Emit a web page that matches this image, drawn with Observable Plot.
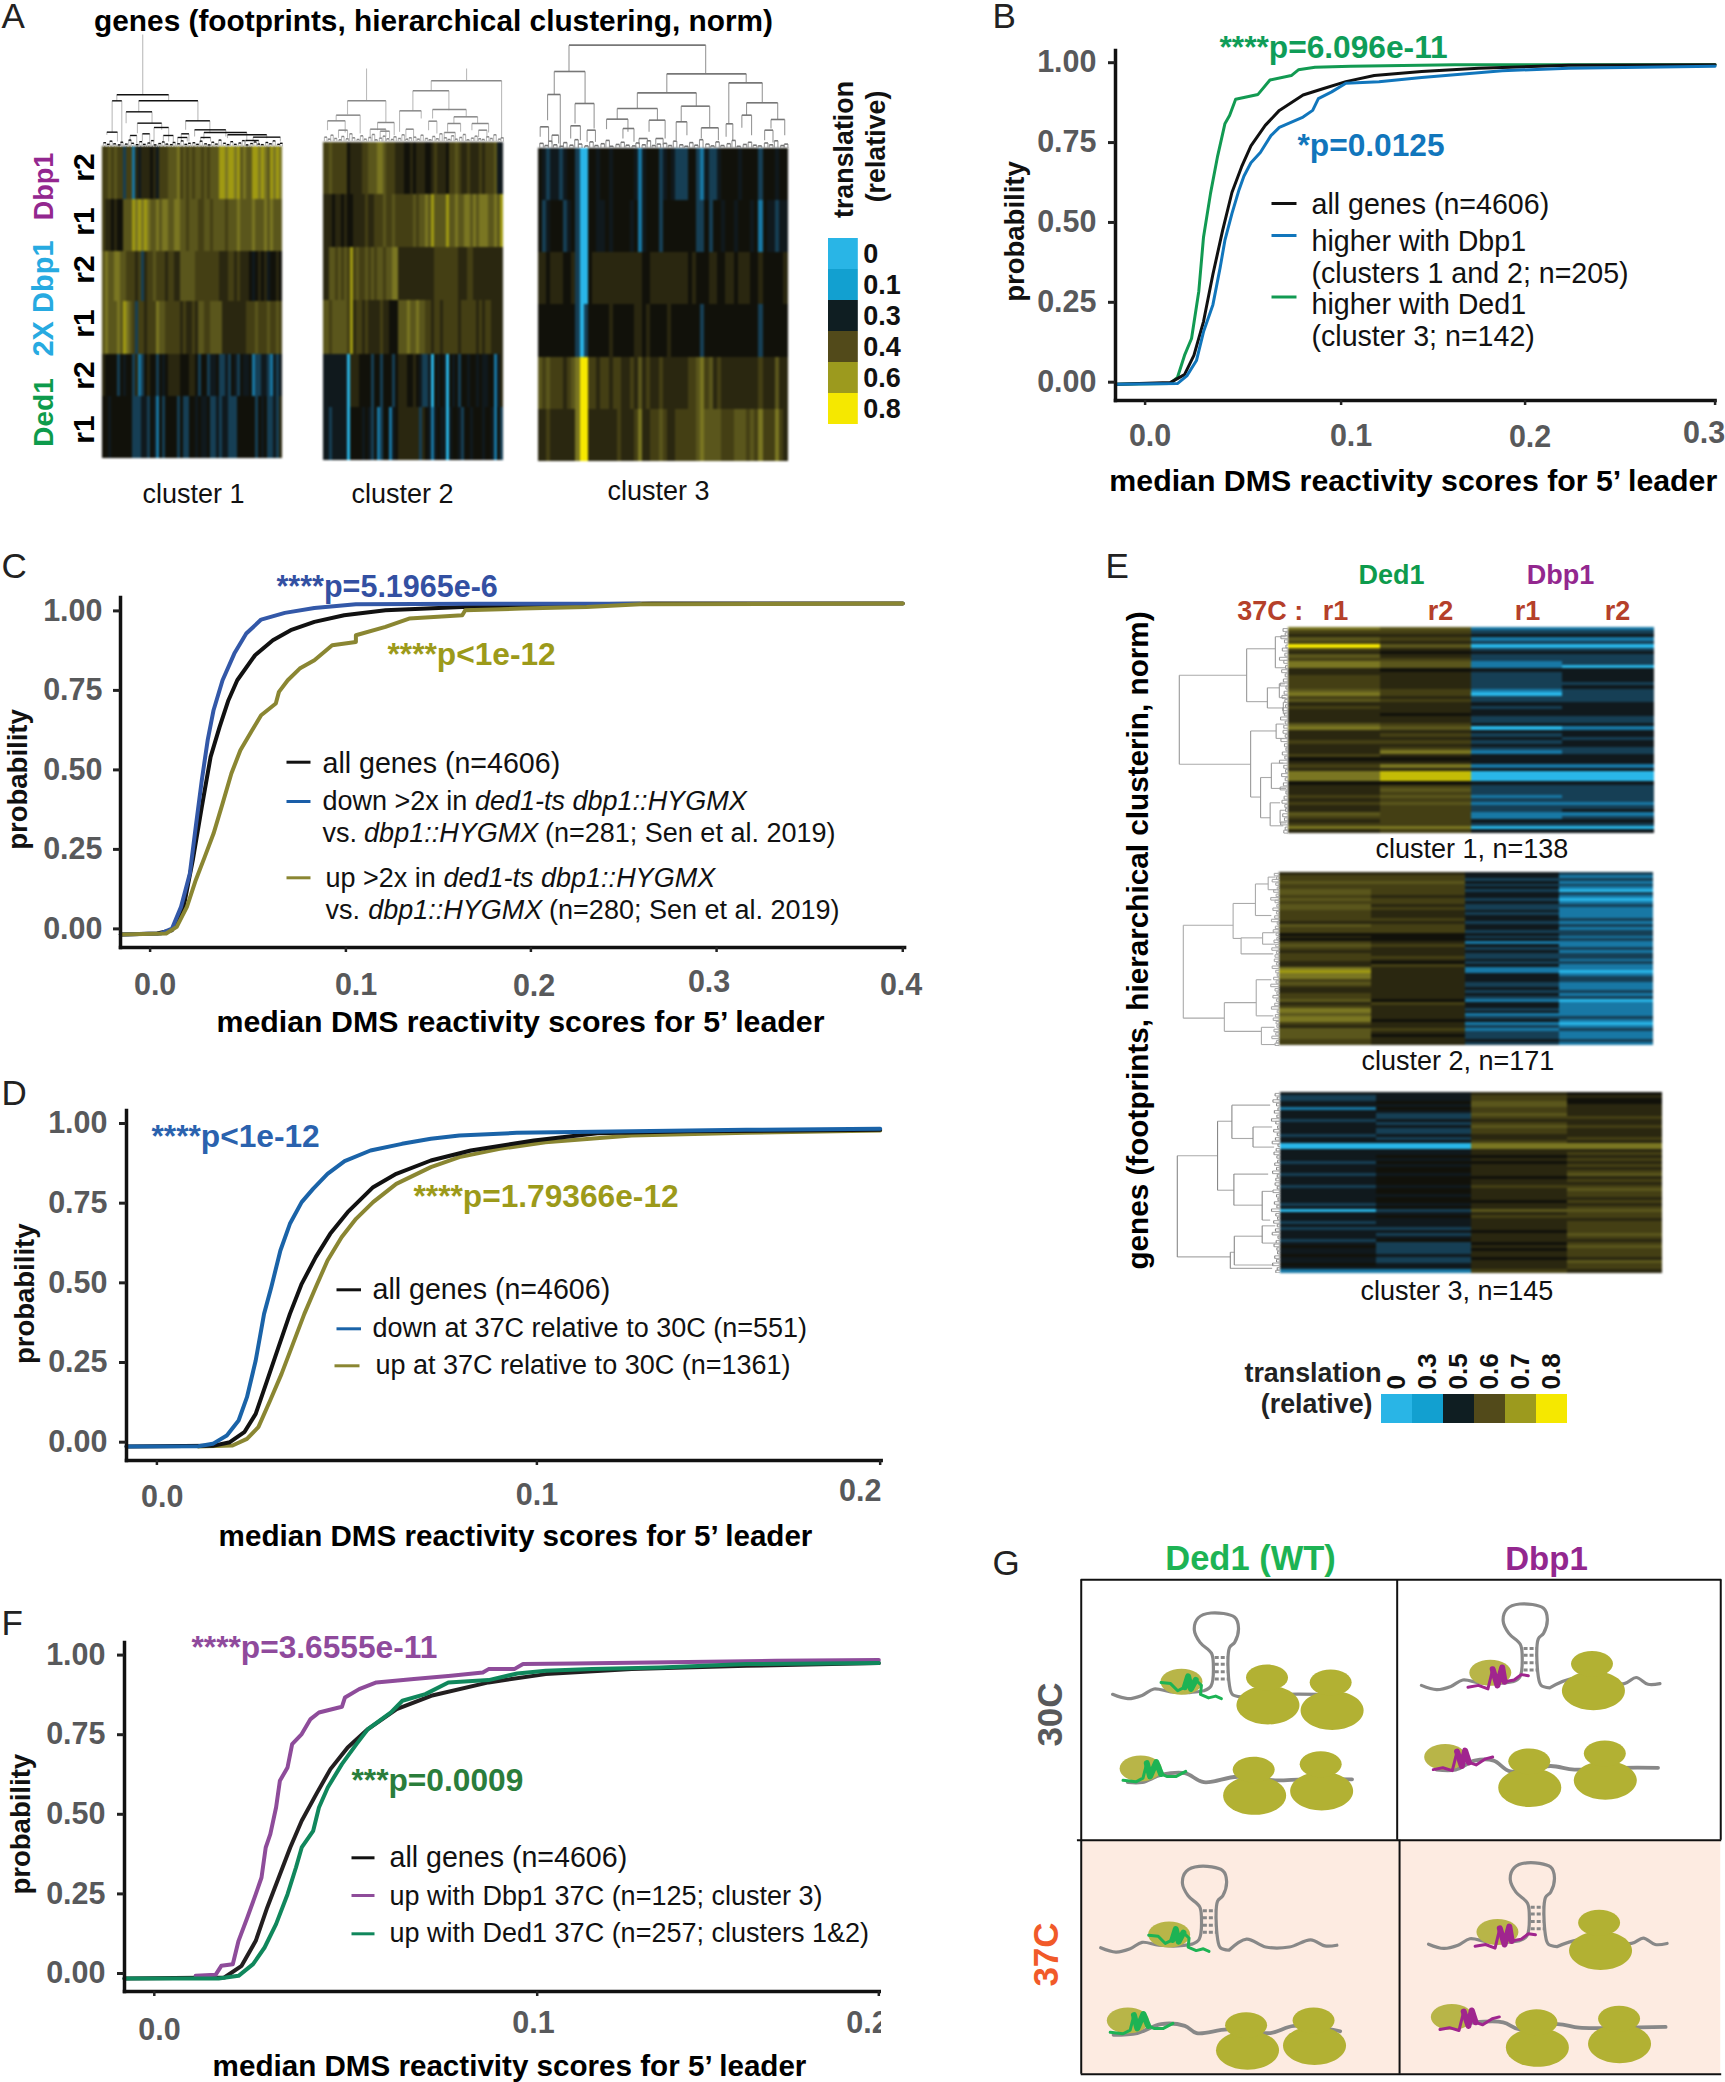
<!DOCTYPE html>
<html><head><meta charset="utf-8">
<style>
html,body{margin:0;padding:0;background:#fff;width:1725px;height:2082px;overflow:hidden}
#page{position:relative;width:1725px;height:2082px;overflow:hidden;font-family:"Liberation Sans",Arial,sans-serif}
#page svg{position:absolute;background:transparent;font-family:"Liberation Sans",Arial,sans-serif}
</style>
<script src="https://cdn.jsdelivr.net/npm/d3@7"></script>
<script src="https://cdn.jsdelivr.net/npm/@observablehq/plot@0.6"></script>
</head><body><div id="page"></div>
<script>
// ---------- Panel B values ----------
const bAllX=[-.015,.0128,.0201,.0249,.0298,.0346,.0395,.0443,.0492,.054,.0613,.0685,.0806,.0903,.1026,.118,.1438,.1747,.223,.3];
const bAllY=[0,.005,.03,.09,.196,.344,.48,.6,.68,.746,.81,.857,.905,.924,.947,.966,.979,.989,.998,1];
const bDedX=[-.015,.0128,.0165,.0201,.0237,.0274,.0298,.0334,.037,.0407,.0431,.0462,.0576,.0637,.0746,.0782,.0867,.1052,.1619,.3];
const bDedY=[0,.002,.021,.09,.143,.291,.46,.598,.714,.815,.841,.892,.907,.952,.966,.984,.992,.995,1,1];
const bDbpX=[-.015,.0165,.0213,.0262,.0298,.0346,.0383,.0407,.0443,.0479,.0504,.054,.0588,.0642,.0685,.0806,.0855,.0884,.0952,.1026,.1206,.1438,.1876,.223,.3];
const bDbpY=[0,.002,.026,.074,.164,.249,.365,.45,.534,.608,.651,.693,.725,.778,.804,.836,.857,.894,.915,.942,.947,.96,.981,.989,.995];
// ---------- Panel C values ----------
const cAllX=[-.015,.0036,.0112,.0173,.0218,.0264,.0309,.0355,.04,.0445,.0536,.0627,.0718,.0839,.0991,.1214,.1629,.2173,.2652,.4];
const cAllY=[-.0115,-.0084,.002,.0807,.2222,.39,.5472,.6415,.7254,.7883,.8669,.914,.9455,.9717,.9927,1.0084,1.0189,1.0262,1.0294,1.0294];
const cDownX=[-.015,.0052,.0112,.0158,.0203,.0233,.0264,.0294,.0324,.037,.043,.0491,.0567,.0688,.0839,.1054,.1693,.2588];
const cDownY=[-.0115,-.0084,.0073,.0755,.1803,.327,.4738,.5996,.6939,.7883,.8721,.935,.979,1,1.0157,1.0273,1.029,1.029];
const cUpX=[-.015,.0082,.0136,.0188,.0233,.0279,.0324,.037,.0415,.0461,.0521,.0567,.0642,.0658,.0703,.0764,.0839,.093,.1054,.1054,.1214,.1342,.1629,.1645,.1949,.23,.2588,.4];
const cUpY=[-.0115,-.0084,.0126,.0755,.1593,.2327,.3061,.4004,.4948,.5681,.631,.6782,.7149,.7516,.7883,.8249,.8512,.8983,.9088,.9298,.956,.9822,.9927,1.0084,1.0136,1.0189,1.0273,1.0294];
// ---------- Panel D values ----------
const dAllX=[-.008,.0147,.0192,.023,.026,.029,.032,.035,.0381,.0418,.0456,.0502,.0569,.063,.0721,.0826,.0992,.1176,.1443,.2];
const dAllY=[-.0042,-.0021,.0094,.0408,.0983,.2029,.3075,.4121,.5063,.59,.6632,.7312,.8096,.8515,.8933,.9247,.9561,.9791,.9854,.9895];
const dDownX=[-.008,.0109,.0147,.0184,.0215,.0237,.026,.0282,.0301,.0325,.035,.0381,.0411,.0449,.0494,.0562,.0645,.0721,.0796,.0947,.1276,.161,.2];
const dDownY=[-.0042,-.0031,.0042,.0303,.0774,.1506,.2657,.4121,.4958,.6109,.6946,.7626,.8044,.8515,.8912,.9247,.9456,.9613,.9718,.9801,.9854,.9895,.9927];
const dUpX=[.0109,.0199,.0237,.0267,.0298,.0328,.0358,.0388,.0418,.0449,.0486,.0524,.0569,.063,.0721,.0796,.0902,.1025,.1276,.161,.2];
const dUpY=[-.0042,-.001,.0199,.0565,.1402,.2238,.318,.4121,.4958,.5795,.6527,.7103,.7626,.8201,.8724,.9038,.9299,.9508,.9718,.9801,.9874];
// ---------- Panel F values ----------
const fAllX=[-.0078,.0183,.0228,.0265,.0295,.0325,.0355,.0385,.0423,.046,.0505,.0558,.0633,.0723,.0873,.1025,.1277,.1613,.2];
const fAllY=[-.0063,-.0031,.0335,.112,.2168,.311,.4052,.489,.5728,.6513,.7194,.777,.8398,.8817,.9236,.9497,.9654,.9759,.9843];
const fDbpX=[.0108,.016,.0175,.0205,.022,.0243,.0265,.028,.0291,.0303,.0318,.0328,.0348,.036,.0385,.0408,.043,.049,.0498,.0535,.058,.0678,.0775,.0858,.0873,.094,.0963,.1109,.1697,.2];
const fDbpY=[.0021,.0052,.0335,.0387,.112,.1853,.2586,.311,.4052,.4471,.5309,.6147,.6565,.7298,.7613,.8084,.8293,.8471,.8764,.9026,.9236,.934,.9445,.955,.9654,.9654,.9812,.9832,.9916,.9937];
const fDedX=[-.0078,.0168,.022,.0258,.0288,.0318,.0348,.037,.0385,.0415,.043,.0453,.049,.0528,.0558,.0618,.0648,.0708,.0768,.0873,.0948,.1025,.116,.1361,.1613,.2];
const fDedY=[-.0063,-.0063,.0021,.0387,.0911,.1644,.2586,.3424,.4052,.4576,.5309,.5937,.667,.7298,.777,.8293,.866,.8869,.9236,.9309,.9518,.9602,.9654,.9707,.9812,.9843];

// ---------- Heat-map levels (one character per cell) ----------
const heatLevels=["0","1","2","3","4","5","6","7","8","9","x","y"];
const heatColors=["#29b6e8","#1878a5","#163f55","#10191d","#11110a","#2a2710","#443f14","#5a561c","#7a7622","#a09a12","#c4bc06","#f6e800"];
// Panel A, rows top to bottom: Dbp1 r2, r1; 2X Dbp1 r2, r1; Ded1 r2, r1
const a1Rows=[
"6676766266 1535554536 6677786767 6776767779 9899897877 9989879898",
"6554544777 9898987787 8877887767 7766776777 7677787777 8777878777",
"7877887766 6562566766 6566557777 7666666665 5566565554 3454534454",
"7877787987 6266566687 7666665655 6577667777 5555555566 6766676676",
"5444424344 2512454424 3455554445 5424423342 2324324334 1223321323",
"4434444444 2223324314 2444424224 4343342232 3322244444 4243422325"];
const a2Rows=[
"6676666645 5556677788 7666555445 4555445655 5466765565 5565666733",
"5554554544 5555655666 7667666666 7677879777 7977877887 8788877879",
"5577676769 6766767677 6778855555 5555555666 6666655566 5555555555",
"7767777769 5665655556 5544477787 7877665665 6666656666 6565665555",
"3333333305 5544442442 4442455544 5432230434 3043424434 4343344135",
"3323333304 4443432412 4413455555 5525431343 3034432443 4443443142"];
const a3Rows=[
"4323323442 0044344344 4443134442 3432224421 3223444434 4442444344",
"4234442342 0044334344 4434134442 4444444422 4244344344 4341433233",
"5545554452 0045555555 5555544555 5555554544 4554455455 5445444445",
"4444444442 0244444544 4445545444 4544444442 4444444444 4442444444",
"7676665678 yy66566566 5565756556 5555556678 6756555555 5556555755",
"5565555558 yy55555556 5556855667 6556666678 7777666777 6768666865"];
// Panel E, columns left to right: Ded1 r1, r2; Dbp1 r1, r2
const e1Cols=[
"86576y6576 8855666678 6756555578 5556555645 6588845556 5655765685",
"7656575456 7745555566 5655545567 5656568545 85xxx46767 6766666686",
"1231202322 1132222210 2232332230 3232321333 1300032221 2122113203",
"1231202322 2033332322 2233332231 3323322333 1300032222 2123123203"];
const e2Cols=[
"5667667767 6776666576 6454676566 6558988676 5566756887 8865777766",
"5667666656 6565556566 6444565556 5465555555 5555465555 5455654555",
"3323232332 3223233233 2323132322 3231133322 3232133231 2312122232",
"2121210210 1211112121 2212112122 1211012211 1212011111 2101211121"];
const e3Cols=[
"3223313332 3333233003 3332333233 3233333230 3332323332 3433433431",
"3334343223 2322323003 3434344344 4344344342 3433323234 2222322331",
"5667766765 6766556885 5454555545 5655554557 5655554555 4545545556",
"4544555565 5655565885 6565656756 5676656567 6656666765 6766657665"];
const legendA=["0","0.1","0.3","0.4","0.6","0.8"];
const legendE=["0","0.3","0.5","0.6","0.7","0.8"];
const legendColors=["#29b5e6","#12a0d0","#0f1e22","#524a1a","#9c9a1e","#f5e800"];

// ---------- Dendrograms: [pos1,pos2,height,childHeight1,childHeight2] ----------
const denA1=[[43,199,155,137,137],[29,58,137,43,0],[13,45,43,35,15],[109,287,137,104,77],[71,149,104,70,70],[105,178,70,40,50],[250,323,77,50,40],[277,371,50,30,30],[305,434,42,22,15],[376,494,35,25,25],[453,535,28,15,15],[155,199,57,15,15],[183,213,33,15,10],[226,255,27,10,15],[237,260,38,15,15],[83,103,33,12,10],[120,142,38,15,12],[295,325,27,12,15],[430,470,18,8,8]];
const denA2=[[72,187,123,82,58],[38,110,80,63,25],[12,65,63,35,28],[162,212,58,35,20],[140,187,38,10,15],[323,534,183,153,10],[268,376,153,93,95],[228,293,93,30,70],[327,428,97,70,75],[391,462,75,55,55],[372,411,55,30,30],[445,495,55,35,28],[315,340,62,35,25],[247,270,38,12,12],[362,395,28,10,10],[45,72,35,12,12],[170,198,32,12,10],[465,490,35,14,14]];
const denA3=[[91,499,310,231,224],[47,139,231,162,135],[27,65,162,85,0],[109,166,135,75,60],[96,125,68,30,25],[5,30,65,35,20],[383,620,224,167,197],[295,471,167,120,127],[235,355,120,88,85],[426,511,127,80,62],[203,267,88,58,50],[330,378,85,50,30],[411,443,80,25,40],[486,537,62,30,25],[568,668,197,75,137],[621,714,137,100,87],[607,636,100,62,40],[694,735,87,60,40],[560,580,74,35,25],[252,285,60,30,20],[145,170,55,20,20],[675,700,55,25,18],[40,60,40,15,15],[300,325,30,12,12],[350,372,30,12,10]];
const denE1=[[83,238,273,104,94],[37,129,104,32,52],[16,70,32,6,6],[105,140,52,22,12],[180,295,94,30,69],[168,193,30,10,10],[261,331,69,42,45],[236,280,42,12,5],[305,345,45,20,12],[318,340,20,8,5],[98,122,22,8,6],[130,150,12,5,4]];
const denE2=[[92,254,241,116,138],[54,115,116,60,96],[20,75,60,28,20],[114,142,96,42,15],[227,277,138,58,45],[187,250,58,20,15],[270,300,45,12,10],[8,30,28,10,8],[105,125,42,12,10]];
const denE3=[[110,286,258,157,125],[50,170,157,121,116],[22,80,121,25,68],[142,196,116,30,45],[278,306,125,115,20],[250,300,115,45,15],[60,95,68,20,15],[172,222,45,20,25],[232,262,45,12,10]];
const leafPos=[.005,.025,.04,.06,.085,.1,.125,.145,.16,.185,.205,.225,.25,.27,.285,.31,.33,.35,.375,.39,.415,.435,.455,.475,.5,.52,.54,.565,.585,.605,.625,.645,.67,.69,.71,.73,.755,.775,.795,.82,.84,.86,.88,.905,.925,.945,.97,.985];
const leafHt=[14,8,20,10,6,16,9,24,12,7,18,8,13,22,6,11,17,9,7,15,10,21,8,12];

// ---------- Panel G schematic, in drawing units ----------
const gLeftTail=[[278,485],[310,497],[340,488],[365,470],[400,478],[440,480],[470,475]];
const gHairpin=[[470,475],[485,462],[490,400],[486,370],[462,340],[450,305],[458,272],[485,258],[535,270],[543,300],[535,340],[524,355],[524,460],[530,485],[548,492]];
const gRungs=[382,401,422,442];
const gTopOffsets=[[0,0],[650,-25],[-25,707],[665,697]];
const gTopTails=[
 [[548,492],[640,485],[710,485]],
 [[1198,467],[1250,440],[1355,455],[1380,438],[1405,457],[1430,455]],
 [[523,1199],[560,1168],[600,1190],[650,1190],[695,1170],[725,1187],[750,1185]],
 [[1213,1189],[1260,1170],[1370,1180],[1395,1165],[1420,1183],[1445,1180]]];
const gLowRna=[
 [[310,730],[340,730],[380,710],[430,705],[470,730],[540,715],[620,725],[680,722],[782,722]],
 [[960,695],[1000,695],[1040,670],[1080,670],[1115,700],[1200,685],[1250,695],[1350,690],[1426,690]],
 [[280,1435],[330,1430],[380,1405],[430,1410],[455,1430],[520,1420],[610,1430],[660,1410],[757,1425]],
 [[970,1415],[1040,1400],[1100,1400],[1135,1420],[1215,1405],[1260,1415],[1350,1415],[1442,1413]]];
const gBig=[[605,515],[740,530],[1290,475],[1305,1200],[577,767],[718,755],[1156,745],[1315,725],[562,1478],[703,1465],[1172,1470],[1345,1460]];
const gSmall=[[603,438],[737,452],[1287,400],[1302,1122],[575,695],[716,680],[1155,672],[1314,650],[559,1408],[701,1395],[1170,1400],[1344,1390]];
const gComplex=[[423,450,"d"],[1073,425,"b"],[397,1155,"d"],[1088,1148,"b"]];
const gComplexLow=[[337,692,"d"],[978,660,"b"],[310,1395,"d"],[992,1385,"b"]];
const gWiggleTop=[[-43,2],[-23,5],[-8,25],[7,15],[14,-15],[20,20],[30,-5],[42,10],[40,35],[57,45],[72,40],[84,47]];
const gWiggleLow=[[-37,33],[-10,37],[5,27],[13,-15],[20,22],[33,-18],[43,15],[55,22],[75,22],[95,8]];
const gWiggleDbpTop=[[-47,40],[-25,35],[-5,45],[5,-10],[15,35],[25,-15],[30,25],[50,20],[65,5],[80,8]];
const gWiggleDbpLow=[[-25,35],[-5,30],[15,38],[25,-15],[35,25],[42,-18],[50,15],[65,22],[85,5],[100,0]];

// ---------- Layout and drawing ----------
const GREY="#58595b", F='"Liberation Sans",Arial,sans-serif';
const page=document.getElementById("page");
function place(svg,l,t){svg.style.left=l+"px";svg.style.top=t+"px";page.appendChild(svg);return svg;}
const zip=(xs,ys)=>xs.map((x,i)=>({x,y:ys[i]}));
const squeeze=s=>s.replace(/ /g,"");

function cdfPanel(p){
  const L0=p.left-95,T0=p.top-5,W=p.right-L0+p.extra,H=p.bottom-T0+62;
  const marks=[];
  p.series.forEach(s=>marks.push(Plot.line(zip(s.xs,s.ys),{x:"x",y:"y",stroke:s.color,strokeWidth:s.w,curve:"linear"})));
  marks.push(Plot.frame({anchor:"left",stroke:"#111",strokeWidth:p.axisW}));
  marks.push(Plot.frame({anchor:"bottom",stroke:"#111",strokeWidth:p.axisW}));
  marks.push(Plot.axisY([0,.25,.5,.75,1],{anchor:"left",tickFormat:".2f",tickSize:7,tickPadding:p.yPad,strokeWidth:3,stroke:"#222",fill:GREY,fontSize:30.5,fontWeight:700,label:null,dy:p.yDy}));
  marks.push(Plot.axisX(p.xTicks.map(d=>d.t),{anchor:"bottom",tickSize:5,strokeWidth:2.5,stroke:"#222",fill:"none",label:null}));
  p.xTicks.forEach((d,i)=>marks.push(Plot.axisX([d.t],{anchor:"bottom",tickSize:0,tickPadding:d.base-p.bottom-22,dx:d.cx-p.xPx[i],tickFormat:".1f",fill:GREY,fontSize:30.5,fontWeight:700,label:null})));
  const svg=Plot.plot({width:W,height:H,marginLeft:p.left-L0,marginRight:W-(p.right-L0),marginTop:p.top-T0,marginBottom:H-(p.bottom-T0),
    x:{type:"linear",domain:p.xTicks.map(d=>d.t),range:p.xPx.map(v=>v-L0)},
    y:{type:"linear",domain:[0,1],range:[p.y0-T0,p.y1-T0]},
    style:{background:"transparent",fontFamily:F,overflow:"hidden"},marks});
  svg.setAttribute("aria-label",p.name);
  place(svg,L0,T0);
}
cdfPanel({name:"B",left:1115.4,right:1715,top:50,bottom:400,extra:10,y0:383.7,y1:64.2,axisW:3.5,yPad:12,yDy:-2,xPx:[1145,1341,1525,1715],
  xTicks:[{t:0,cx:1150,base:446},{t:.1,cx:1351,base:446},{t:.2,cx:1530,base:447},{t:.3,cx:1704,base:443}],
  series:[{xs:bDedX,ys:bDedY,color:"#129a52",w:3},{xs:bAllX,ys:bAllY,color:"#111",w:3},{xs:bDbpX,ys:bDbpY,color:"#1176bc",w:3}]});
cdfPanel({name:"C",left:120.4,right:904.5,top:597.3,bottom:947.3,extra:24,y0:930.7,y1:612.7,axisW:3.5,yPad:11,yDy:-2,xPx:[150,345.8,530.8,716.5,902.7],
  xTicks:[{t:0,cx:155,base:995},{t:.1,cx:356,base:995},{t:.2,cx:534,base:996},{t:.3,cx:709,base:991.7},{t:.4,cx:901,base:995}],
  series:[{xs:cAllX,ys:cAllY,color:"#111",w:4},{xs:cDownX,ys:cDownY,color:"#3358a8",w:4},{xs:cUpX,ys:cUpY,color:"#8a8632",w:4}]});
cdfPanel({name:"D",left:126.3,right:881,top:1110,bottom:1460,extra:10,y0:1444.7,y1:1126,axisW:3.5,yPad:12,yDy:-3,xPx:[156.7,536.7,880],
  xTicks:[{t:0,cx:162,base:1507.3},{t:.1,cx:536.7,base:1505},{t:.2,cx:860,base:1500.7}],
  series:[{xs:dUpX,ys:dUpY,color:"#8a8632",w:4},{xs:dAllX,ys:dAllY,color:"#111",w:4},{xs:dDownX,ys:dDownY,color:"#1a63a8",w:4}]});
cdfPanel({name:"F",left:124,right:881,top:1641.7,bottom:1990.7,extra:0,y0:1975.7,y1:1657.3,axisW:3.5,yPad:12,yDy:-3,xPx:[153.8,536.7,878.3],
  xTicks:[{t:0,cx:159,base:2039.3},{t:.1,cx:533,base:2032.7},{t:.2,cx:867,base:2032.7}],
  series:[{xs:fAllX,ys:fAllY,color:"#231f20",w:4},{xs:fDbpX,ys:fDbpY,color:"#8e4c9a",w:4},{xs:fDedX,ys:fDedY,color:"#10875c",w:4}]});

const colorScale={type:"ordinal",domain:heatLevels,range:heatColors};
const heatStyle={background:"transparent",filter:"blur(0.8px)"};
function heatA(rows,xL,xR,edges,name){
  const cells=[];
  rows.forEach((s,r)=>[...squeeze(s)].forEach((v,c)=>cells.push({c,r,v})));
  const n=squeeze(rows[0]).length,T=edges[0],B=edges[edges.length-1];
  const svg=Plot.plot({width:xR-xL,height:B-T,margin:0,x:{type:"linear",domain:[0,n],range:[0,xR-xL],axis:null},y:{type:"identity",axis:null},color:colorScale,
    style:heatStyle,
    marks:[Plot.rect(cells,{x1:"c",x2:d=>d.c+1,y1:d=>edges[d.r]-T,y2:d=>edges[d.r+1]-T,fill:"v",shapeRendering:"crispEdges"})]});
  svg.setAttribute("aria-label",name);place(svg,xL,T);
}
heatA(a1Rows,102.2,282.4,[146,198.8,250.8,301.5,354,396.2,458],"A cluster 1");
heatA(a2Rows,323.2,503.5,[142,193.7,247,300.2,354,407,459.8],"A cluster 2");
heatA(a3Rows,538,787.6,[147.7,199.5,252.2,303.9,357,409,460.8],"A cluster 3");
function heatE(cols,edges,T,B,name){
  const cells=[];
  cols.forEach((s,c)=>[...squeeze(s)].forEach((v,r)=>cells.push({c,r,v})));
  const n=squeeze(cols[0]).length,L=edges[0];
  const svg=Plot.plot({width:edges[4]-L,height:B-T,margin:0,x:{type:"identity",axis:null},y:{type:"linear",domain:[0,n],range:[0,B-T],axis:null},color:colorScale,
    style:heatStyle,
    marks:[Plot.rect(cells,{x1:d=>edges[d.c]-L,x2:d=>edges[d.c+1]-L,y1:"r",y2:d=>d.r+1,fill:"v",shapeRendering:"crispEdges"})]});
  svg.setAttribute("aria-label",name);place(svg,L,T);
}
heatE(e1Cols,[1288,1379.7,1471,1562,1654],627,832.8,"E cluster 1");
heatE(e2Cols,[1278.6,1371,1465,1559,1652.8],871.8,1045,"E cluster 2");
heatE(e3Cols,[1280,1375.8,1471,1567,1662],1092,1272.5,"E cluster 3");

function dendro(d){
  const hz=[],vt=[];
  const P=d.P;
  const all=d.br.slice();
  leafPos.forEach((f,i)=>all.push([f*P,f*P+P/70,leafHt[i%leafHt.length]*d.leafK,0,0]));
  all.forEach(([a,b,h,h1,h2])=>{hz.push({p1:a,p2:b,h});vt.push({p1:a,p2:a,h1:h,h2:h1},{p1:b,p2:b,h1:h,h2:h2});});
  (d.stems||[]).forEach(([p,h1,h2])=>vt.push({p1:p,p2:p,h1,h2}));
  let marks,opt;
  if(d.dir==="up"){
    const W=d.b-d.a,Ht=d.H*d.k;
    opt={width:W+2,height:Ht+2,x:{type:"linear",domain:[0,P],range:[1,W+1],axis:null},y:{type:"linear",domain:[0,d.H],range:[Ht+1,1],axis:null}};
    marks=[Plot.link(vt,{x1:"p1",x2:"p2",y1:"h1",y2:"h2",stroke:d.vc,strokeWidth:1.1}),Plot.link(hz,{x1:"p1",x2:"p2",y1:"h",y2:"h",stroke:d.hc,strokeWidth:d.hw})];
    opt.style={background:"transparent"};opt.margin=0;opt.marks=marks;
    const svg=Plot.plot(opt);svg.setAttribute("aria-label",d.name);place(svg,d.a-1,d.base-Ht-1);
  } else {
    const Ht=d.b-d.a,W=d.H*d.k;
    opt={width:W+2,height:Ht+2,x:{type:"linear",domain:[0,d.H],range:[W+1,1],axis:null},y:{type:"linear",domain:[0,P],range:[1,Ht+1],axis:null}};
    marks=[Plot.link(vt,{y1:"p1",y2:"p2",x1:"h1",x2:"h2",stroke:d.vc,strokeWidth:1.1}),Plot.link(hz,{y1:"p1",y2:"p2",x1:"h",x2:"h",stroke:d.hc,strokeWidth:d.hw})];
    opt.style={background:"transparent"};opt.margin=0;opt.marks=marks;
    const svg=Plot.plot(opt);svg.setAttribute("aria-label",d.name);place(svg,d.base-W-1,d.a-1);
  }
}
dendro({name:"A1 tree",dir:"up",br:denA1,stems:[[121,155,336]],P:542,a:102.2,b:282.4,base:146,H:336,k:1/3,leafK:.8,vc:"#bbb",hc:"#111",hw:1.4});
dendro({name:"A2 tree",dir:"up",br:denA2,stems:[[129,123,220],[429,183,220]],P:540,a:323.3,b:503.4,base:141.7,H:220,k:1/3,leafK:1,vc:"#bbb",hc:"#888",hw:1.5});
dendro({name:"A3 tree",dir:"up",br:denA3,P:745,a:538,b:787.6,base:147.5,H:312,k:1/3,leafK:1.1,vc:"#999",hc:"#777",hw:1.6});
dendro({name:"E1 tree",dir:"left",br:denE1,P:358,a:627,b:832.8,base:1288,H:275,k:1/2.509,leafK:.9,vc:"#aaa",hc:"#999",hw:1.1});
dendro({name:"E2 tree",dir:"left",br:denE2,P:302,a:871.8,b:1045,base:1278.6,H:243,k:1/2.509,leafK:.9,vc:"#aaa",hc:"#aaa",hw:1.1});
dendro({name:"E3 tree",dir:"left",br:denE3,P:314,a:1092,b:1272.5,base:1280,H:260,k:1/2.509,leafK:.9,vc:"#aaa",hc:"#888",hw:1.1});

// colour keys
(function(){
  const w=60,h=187;
  const svg=Plot.plot({width:w+40,height:h,marginLeft:0,marginRight:70,marginTop:0,marginBottom:0,
    x:{axis:null,domain:[0,1],range:[0,29.8]},
    y:{type:"band",domain:legendA,range:[0,h],padding:0,axis:null},
    color:{type:"ordinal",domain:legendA,range:legendColors},style:{background:"transparent",overflow:"visible"},
    marks:[Plot.rect(legendA,{x1:0,x2:1,y:d=>d,fill:d=>d}),
      Plot.text(legendA,{x:1,y:d=>d,text:d=>d,textAnchor:"start",dx:5,fontSize:27,fontWeight:700,fill:"#111"})]});
  svg.setAttribute("aria-label","A colour key");place(svg,828.4,236.6);
  const svg2=Plot.plot({width:188,height:72,margin:0,marginTop:43,
    x:{type:"band",domain:legendE,range:[0,188],padding:0,axis:null},y:{axis:null,domain:[0,1],range:[72,43]},
    color:{type:"ordinal",domain:legendE,range:legendColors},style:{background:"transparent",overflow:"visible"},
    marks:[Plot.rect(legendE,{x:d=>d,y1:0,y2:1,fill:d=>d}),
      Plot.text(legendE,{x:d=>d,y:1,text:d=>d,rotate:-90,textAnchor:"start",dy:-5,fontSize:26,fontWeight:700,fill:"#111"})]});
  svg2.setAttribute("aria-label","E colour key");place(svg2,1380,1351);
})();

// Panel G
(function(){
  const ellipse={draw(ctx,size){const rx=Math.sqrt(size/Math.PI),ry=rx/1.62,c=.5523;
    ctx.moveTo(rx,0);ctx.bezierCurveTo(rx,c*ry,c*rx,ry,0,ry);ctx.bezierCurveTo(-c*rx,ry,-rx,c*ry,-rx,0);
    ctx.bezierCurveTo(-rx,-c*ry,-c*rx,-ry,0,-ry);ctx.bezierCurveTo(c*rx,-ry,rx,-c*ry,rx,0);ctx.closePath();}};
  const thin=[],rungs=[],low=[];
  gTopOffsets.forEach(([dx,dy],i)=>{
    [...gLeftTail,...gHairpin].forEach(([x,y])=>thin.push({z:i,x:x+dx,y:y+dy}));
    gTopTails[i].forEach(([x,y])=>thin.push({z:i,x,y}));
    gRungs.forEach(y=>rungs.push({x1:493+dx,x2:522+dx,y:y+dy}));
  });
  gLowRna.forEach((pts,i)=>pts.forEach(([x,y])=>low.push({z:i,x,y})));
  const wig=[],fingers=[];
  const factor=(cx,cy,mot,k,z)=>{
    mot.forEach(([dx,dy])=>wig.push({z,k,x:cx+dx,y:cy+dy}));
    mot.slice(3,7).forEach(([dx,dy])=>fingers.push({z,k,x:cx+dx,y:cy+dy}));
  };
  gComplex.forEach(([x,y,k],i)=>factor(x,y,k==="d"?gWiggleTop:gWiggleDbpTop,k,"t"+i));
  gComplexLow.forEach(([x,y,k],i)=>factor(x,y,k==="d"?gWiggleLow:gWiggleDbpLow,k,"l"+i));
  const pic=[...gComplex,...gComplexLow].map(([x,y])=>({x,y}));
  const toObj=a=>a.map(([x,y])=>({x,y}));
  const svg=Plot.plot({width:745,height:562,margin:0,x:{type:"linear",domain:[0,1568],range:[0,745],axis:null},y:{type:"linear",domain:[0,1568],range:[0,562],axis:null},
    color:{type:"ordinal",domain:["d","b"],range:["#1db354","#a0258e"]},
    style:{background:"transparent"},
    marks:[
      Plot.rect([0],{x1:214,x2:1558,y1:892,y2:1545,fill:"#fdebe1"}),
      Plot.ruleX([212,877,882],{y1:d=>d===882?892:165,y2:d=>d===877?892:1545,stroke:"#111",strokeWidth:2}),
      Plot.ruleX([1558],{y1:165,y2:892,stroke:"#111",strokeWidth:2}),
      Plot.ruleY([165,892,1545],{x1:d=>d===892?204:212,x2:1560,stroke:"#111",strokeWidth:2}),
      Plot.line(thin,{x:"x",y:"y",z:"z",stroke:"#888",strokeWidth:3.2,curve:"catmull-rom"}),
      Plot.link(rungs,{x1:"x1",x2:"x2",y1:"y",y2:"y",stroke:"#888",strokeWidth:3,strokeDasharray:"4 2"}),
      Plot.line(low,{x:"x",y:"y",z:"z",stroke:"#888",strokeWidth:3.8,curve:"catmull-rom"}),
      Plot.dot(toObj(gBig),{x:"x",y:"y",r:31.5,symbol:ellipse,fill:"#b2b133",stroke:"none"}),
      Plot.dot(toObj(gSmall),{x:"x",y:"y",r:21,symbol:ellipse,fill:"#b2b133",stroke:"none"}),
      Plot.dot(pic,{x:"x",y:"y",r:21,symbol:ellipse,fill:"#b8b548",stroke:"none"}),
      Plot.line(wig,{x:"x",y:"y",z:"z",stroke:"k",strokeWidth:3,strokeLinejoin:"round",curve:"linear"}),
      Plot.line(fingers,{x:"x",y:"y",z:"z",stroke:"k",strokeWidth:6,strokeLinejoin:"round",curve:"linear"})
    ]});
  svg.setAttribute("aria-label","G schematic");place(svg,980,1520);
})();

// Text and legend keys
const B="bold",PV=31.7,LG=27,LG2=28.6,XT=30.3,XT2=29.6,texts=[
 // panel letters
 {t:"A",x:1,y:27,s:35,c:"#222"},{t:"B",x:992,y:27,s:35,c:"#222"},{t:"C",x:1,y:577,s:35,c:"#222"},{t:"D",x:1,y:1104,s:35,c:"#222"},{t:"E",x:1105,y:577,s:35,c:"#222"},{t:"F",x:1,y:1634,s:35,c:"#222"},{t:"G",x:992,y:1574,s:35,c:"#222"},
 // A
 {t:"genes (footprints, hierarchical clustering, norm)",x:93.6,y:30,s:29.8,w:B,c:"#000"},
 {t:"r2",x:93,y:167,s:30,w:B,r:-90,a:"middle",c:"#000"},{t:"r1",x:93,y:221,s:30,w:B,r:-90,a:"middle",c:"#000"},{t:"r2",x:93,y:269,s:30,w:B,r:-90,a:"middle",c:"#000"},{t:"r1",x:93,y:323,s:30,w:B,r:-90,a:"middle",c:"#000"},{t:"r2",x:93,y:375,s:30,w:B,r:-90,a:"middle",c:"#000"},{t:"r1",x:93,y:429,s:30,w:B,r:-90,a:"middle",c:"#000"},
 {t:"Dbp1",x:52,y:186,s:27,w:B,r:-90,a:"middle",c:"#93278f"},{t:"2X Dbp1",x:52,y:298,s:29,w:B,r:-90,a:"middle",c:"#27aae1"},{t:"Ded1",x:52,y:412,s:28,w:B,r:-90,a:"middle",c:"#0d9b4c"},
 {t:"cluster 1",x:142,y:502,s:27},{t:"cluster 2",x:351,y:502,s:27},{t:"cluster 3",x:607,y:499,s:27},
 {t:"translation",x:852,y:149,s:26.8,w:B,r:-90,a:"middle",c:"#111"},{t:"(relative)",x:884,y:146,s:26.8,w:B,r:-90,a:"middle",c:"#111"},
 // B
 {t:"****p=6.096e-11",x:1219,y:57.5,s:PV,w:B,c:"#0f9d58"},{t:"*p=0.0125",x:1297,y:155,s:PV,w:B,c:"#1176bc"},
 {t:"all genes (n=4606)",x:1311,y:213.6,s:LG2},{t:"higher with Dbp1",x:1311,y:250,s:LG2},{t:"(clusters 1 and 2; n=205)",x:1311,y:282,s:LG2},{t:"higher with Ded1",x:1311,y:313.7,s:LG2},{t:"(cluster 3; n=142)",x:1311,y:345.5,s:LG2},
 {t:"probability",x:1023,y:231,s:27.5,w:B,r:-90,a:"middle",c:"#111"},
 {t:"median DMS reactivity scores for 5’ leader",x:1412.8,y:490,s:XT,w:B,a:"middle",c:"#000"},
 // C
 {t:"****p=5.1965e-6",x:276,y:596.7,s:30.5,w:B,c:"#3350a2"},{t:"****p<1e-12",x:387,y:664,s:PV,w:B,c:"#9c9a1a"},
 {t:"all genes (n=4606)",x:322,y:772.3,s:LG2},{t:"down >2x in",x:322,y:809.3,s:LG},{t:"ded1-ts dbp1::HYGMX",x:474.5,y:809.3,s:LG,i:1},{t:"vs.",x:322,y:841.7,s:LG},{t:"dbp1::HYGMX",x:363.6,y:841.7,s:LG,i:1},{t:"(n=281; Sen et al. 2019)",x:544.5,y:841.7,s:LG},
 {t:"up >2x in",x:325,y:886.7,s:LG},{t:"ded1-ts dbp1::HYGMX",x:443,y:886.7,s:LG,i:1},{t:"vs.",x:325,y:918.3,s:LG},{t:"dbp1::HYGMX",x:367.7,y:918.3,s:LG,i:1},{t:"(n=280; Sen et al. 2019)",x:548.6,y:918.3,s:LG},
 {t:"probability",x:26,y:779,s:27.5,w:B,r:-90,a:"middle",c:"#111"},
 {t:"median DMS reactivity scores for 5’ leader",x:520,y:1031.7,s:XT,w:B,a:"middle",c:"#000"},
 // D
 {t:"****p<1e-12",x:151,y:1146,s:PV,w:B,c:"#2a62ae"},{t:"****p=1.79366e-12",x:413,y:1206,s:PV,w:B,c:"#9c9a1a"},
 {t:"all genes (n=4606)",x:372,y:1298.3,s:LG2},{t:"down at 37C relative to 30C (n=551)",x:372,y:1336,s:LG},{t:"up at 37C relative to 30C (n=1361)",x:375,y:1373.3,s:LG},
 {t:"probability",x:33,y:1293.3,s:27.5,w:B,r:-90,a:"middle",c:"#111"},
 {t:"median DMS reactivity scores for 5’ leader",x:515,y:1545,s:XT2,w:B,a:"middle",c:"#000"},
 // F
 {t:"****p=3.6555e-11",x:191,y:1657.3,s:PV,w:B,c:"#8f4a9c"},{t:"***p=0.0009",x:351,y:1790.7,s:PV,w:B,c:"#2a7d3b"},
 {t:"all genes (n=4606)",x:389,y:1866.7,s:LG2},{t:"up with Dbp1 37C (n=125; cluster 3)",x:389,y:1904,s:LG},{t:"up with Ded1 37C (n=257; clusters 1&2)",x:389,y:1941.7,s:LG},
 {t:"probability",x:29,y:1823.7,s:27.5,w:B,r:-90,a:"middle",c:"#111"},
 {t:"median DMS reactivity scores for 5’ leader",x:509,y:2075,s:XT2,w:B,a:"middle",c:"#000"},
 // E
 {t:"Ded1",x:1391,y:583,s:27,w:B,a:"middle",c:"#0d9b4c"},{t:"Dbp1",x:1560,y:583,s:27,w:B,a:"middle",c:"#93278f"},
 {t:"37C :",x:1236.7,y:619,s:27,w:B,c:"#b5402a"},{t:"r1",x:1335,y:619,s:27,w:B,a:"middle",c:"#b5402a"},{t:"r2",x:1440,y:619,s:27,w:B,a:"middle",c:"#b5402a"},{t:"r1",x:1527,y:619,s:27,w:B,a:"middle",c:"#b5402a"},{t:"r2",x:1617,y:619,s:27,w:B,a:"middle",c:"#b5402a"},
 {t:"cluster 1, n=138",x:1375,y:857,s:27},{t:"cluster 2, n=171",x:1361,y:1069,s:27},{t:"cluster 3, n=145",x:1360,y:1299,s:27},
 {t:"genes (footprints, hierarchical clusterin, norm)",x:1147,y:940,s:29.7,w:B,r:-90,a:"middle",c:"#000"},
 {t:"translation",x:1381,y:1381,s:26.8,w:B,a:"end",c:"#222"},{t:"(relative)",x:1372,y:1412.5,s:26.8,w:B,a:"end",c:"#222"},
 // G
 {t:"Ded1 (WT)",x:1250,y:1569,s:34.5,w:B,a:"middle",c:"#1db354"},{t:"Dbp1",x:1546,y:1569,s:33,w:B,a:"middle",c:"#93278f"},
 {t:"30C",x:1061,y:1714,s:35,w:B,r:-90,a:"middle",c:GREY},{t:"37C",x:1057,y:1954,s:35,w:B,r:-90,a:"middle",c:"#f15a29"}
];
const keys=[
 [1271,1296,203,"#111"],[1271,1296,235,"#1176bc"],[1271,1296,296.5,"#129a52"],
 [286,310,761.7,"#111"],[286,310,801,"#1a5ea8"],[286,310,877.3,"#8a8632"],
 [336,360.5,1289.3,"#111"],[336,360.5,1328.3,"#1a63a8"],[334,359,1365.3,"#8a8632"],
 [351,374,1857.3,"#111"],[351,374,1895,"#8e4c9a"],[351,374,1933.3,"#10875c"]];
const overlay=Plot.plot({width:1725,height:2082,margin:0,x:{type:"identity",axis:null},y:{type:"identity",axis:null},style:{background:"transparent",pointerEvents:"none"},
 marks:[
  Plot.link(keys,{x1:d=>d[0],x2:d=>d[1],y1:d=>d[2],y2:d=>d[2],stroke:d=>d[3],strokeWidth:3}),
  ...texts.map(d=>Plot.text([d],{x:"x",y:"y",text:"t",lineAnchor:"bottom",textAnchor:d.a||"start",rotate:d.r||0,fontSize:d.s,fontWeight:d.w||"normal",fontStyle:d.i?"italic":"normal",fill:d.c||"#111"}))
 ]});
overlay.setAttribute("aria-label","labels");place(overlay,0,0);
</script></body></html>
